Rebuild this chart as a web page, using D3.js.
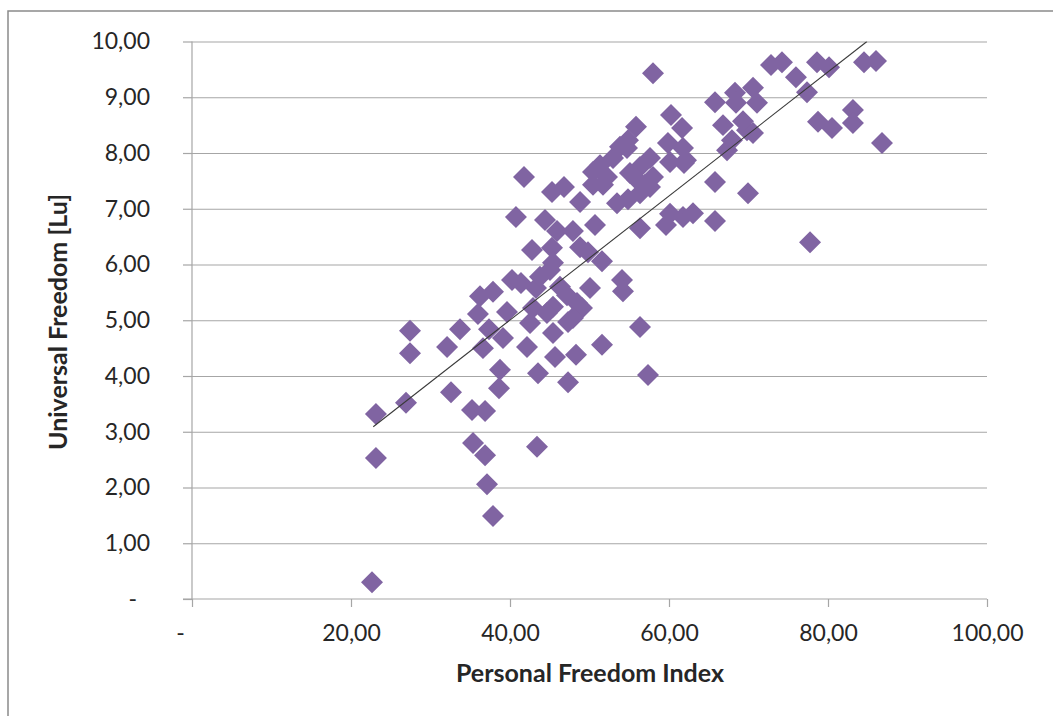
<!DOCTYPE html>
<meta charset="utf-8">
<style>
body { margin: 0; background: white; }
.tick text { font-family: Lato, sans-serif; font-size: 23px; fill: #262626; }
.title { font-family: Lato, sans-serif; font-size: 25px; font-weight: bold; fill: #262626; }
.dot { fill: #8064A2; }
</style>
<body>
<script src="https://d3js.org/d3.v7.min.js"></script>
<script>

// data
var pfi = [22.64, 23.14, 23.14, 26.92, 27.42, 27.42, 32.08, 33.71, 32.58, 35.22,
  36.86, 35.35, 36.86, 37.11, 37.86, 35.97, 36.23, 37.86, 37.36, 36.60,
  38.74, 38.62, 39.12, 39.62, 40.25, 41.38, 42.14, 43.52, 43.40, 42.52,
  45.41, 45.66, 47.30, 48.30, 51.57, 56.35, 57.36, 54.09, 54.21, 51.57,
  43.27, 43.77, 45.03, 46.29, 47.17, 50.06, 42.89, 45.41, 48.43, 49.06,
  47.92, 44.65, 47.30, 42.77, 45.28, 45.41, 48.81, 49.81, 40.75, 44.40,
  45.91, 47.92, 50.69, 56.35, 41.76, 45.28, 46.79, 48.81, 50.44, 51.70,
  53.46, 54.84, 56.35, 57.61, 57.99, 60.25, 61.64, 55.85, 54.84, 54.72,
  59.87, 61.76, 62.14, 52.96, 53.84, 51.32, 50.44, 52.20, 55.09, 56.35,
  57.61, 55.97, 56.98, 57.99, 60.13, 61.89, 60.13, 61.76, 63.02, 59.62,
  65.79, 65.79, 69.94, 67.30, 67.92, 66.79, 69.31, 69.81, 70.57, 65.79,
  68.30, 70.57, 68.43, 71.07, 72.83, 74.21, 78.62, 80.13, 84.53, 86.04,
  75.97, 77.36, 78.74, 80.50, 83.14, 83.14, 86.79, 77.74];

var freedom = [0.30, 2.53, 3.32, 3.52, 4.81, 4.41, 4.52, 4.84, 3.71, 3.39,
  3.37, 2.80, 2.58, 2.06, 1.49, 5.11, 5.43, 5.51, 4.84, 4.50,
  4.11, 3.78, 4.68, 5.15, 5.72, 5.67, 4.52, 4.05, 2.73, 4.95,
  4.77, 4.34, 3.89, 4.38, 4.56, 4.88, 4.02, 5.72, 5.52, 6.06,
  5.58, 5.78, 5.90, 5.60, 5.45, 5.58, 5.22, 5.24, 5.31, 5.22,
  5.04, 5.13, 4.97, 6.26, 6.30, 6.03, 6.31, 6.22, 6.85, 6.80,
  6.60, 6.60, 6.71, 6.65, 7.57, 7.30, 7.39, 7.12, 7.43, 7.43,
  7.10, 7.17, 7.28, 7.39, 9.43, 8.68, 8.45, 8.47, 8.23, 8.09,
  8.18, 8.09, 7.87, 7.91, 8.11, 7.78, 7.66, 7.57, 7.64, 7.75,
  7.91, 7.52, 7.43, 7.57, 7.84, 7.82, 6.91, 6.85, 6.92, 6.71,
  6.78, 7.48, 7.28, 8.05, 8.23, 8.50, 8.57, 8.41, 8.36, 8.91,
  9.08, 9.17, 8.90, 8.90, 9.58, 9.63, 9.63, 9.54, 9.63, 9.65,
  9.36, 9.09, 8.56, 8.45, 8.77, 8.54, 8.18, 6.40];

// linear trend line end points
var trendX = [22.8, 84.9];
var trendY = [3.09, 10.0];

var xTicks = [0, 20, 40, 60, 80, 100];
var yTicks = [0, 1, 2, 3, 4, 5, 6, 7, 8, 9, 10];

var points = pfi.map(function(d, i) { return {x: d, y: freedom[i]}; });

var width = 1053, height = 716;
var plotLeft = 192, plotRight = 987, plotTop = 41.5, plotBottom = 599;

var x = d3.scaleLinear().domain([0, 100]).range([plotLeft, plotRight]);
var y = d3.scaleLinear().domain([0, 10]).range([plotBottom, plotTop]);

var fmt = function(d) { return d === 0 ? "-" : d3.format(".2f")(d).replace(".", ","); };

var svg = d3.select("body").append("svg")
    .attr("width", width)
    .attr("height", height);

// chart frame
svg.append("rect")
    .attr("x", 8).attr("y", 11)
    .attr("width", 1200).attr("height", 900)
    .attr("fill", "white")
    .attr("stroke", "#8a8a8a")
    .attr("stroke-width", 1.5);

// horizontal gridlines
svg.append("g")
    .attr("transform", "translate(" + plotLeft + ",0)")
    .call(d3.axisLeft(y).tickValues(yTicks.slice(1)).tickSize(-(plotRight - plotLeft)).tickFormat(""))
    .call(function(g) {
      g.select(".domain").remove();
      g.selectAll("line").attr("stroke", "#a6a6a6").attr("stroke-width", 1.2);
    });

// y axis
var yAxis = svg.append("g")
    .attr("transform", "translate(" + plotLeft + ",0)")
    .call(d3.axisLeft(y).tickValues(yTicks).tickSize(9).tickPadding(33).tickFormat(fmt));
yAxis.select(".domain").attr("stroke", "#a6a6a6").attr("stroke-width", 1.2).attr("d", "M0," + plotTop + "V" + plotBottom);
yAxis.selectAll("line").attr("stroke", "#a6a6a6").attr("stroke-width", 1.2);
yAxis.selectAll(".tick text").filter(function(d) { return d === 0; }).attr("x", -55);

// x axis
var xAxis = svg.append("g")
    .attr("transform", "translate(0," + plotBottom + ")")
    .call(d3.axisBottom(x).tickValues(xTicks).tickSize(8).tickPadding(18).tickFormat(fmt));
xAxis.select(".domain").attr("stroke", "#a6a6a6").attr("stroke-width", 1.2).attr("d", "M" + (plotLeft - 9) + ",0H" + plotRight);
xAxis.selectAll("line").attr("stroke", "#a6a6a6").attr("stroke-width", 1.2);
xAxis.selectAll(".tick text").filter(function(d) { return d === 0; }).attr("x", -12);

// markers
svg.selectAll(".dot")
    .data(points)
  .enter().append("path")
    .attr("class", "dot")
    .attr("d", d3.symbol().type(d3.symbolSquare).size(242))
    .attr("transform", function(d) { return "translate(" + x(d.x) + "," + y(d.y) + ") rotate(45)"; });

// trend line, clipped to the plot area
svg.append("clipPath").attr("id", "plot")
  .append("rect").attr("x", plotLeft).attr("y", plotTop).attr("width", plotRight - plotLeft).attr("height", plotBottom - plotTop);

svg.append("path")
    .datum(trendX.map(function(d, i) { return [d, trendY[i]]; }))
    .attr("clip-path", "url(#plot)")
    .attr("fill", "none")
    .attr("stroke", "#3a3a3a")
    .attr("stroke-width", 1.1)
    .attr("d", d3.line().x(function(d) { return x(d[0]); }).y(function(d) { return y(d[1]); }));

// axis titles
svg.append("text")
    .attr("class", "title")
    .attr("x", 590).attr("y", 682)
    .attr("text-anchor", "middle")
    .text("Personal Freedom Index");

svg.append("text")
    .attr("class", "title")
    .attr("transform", "translate(67,322) rotate(-90)")
    .attr("text-anchor", "middle")
    .text("Universal Freedom [Lu]");

</script>
</body>
